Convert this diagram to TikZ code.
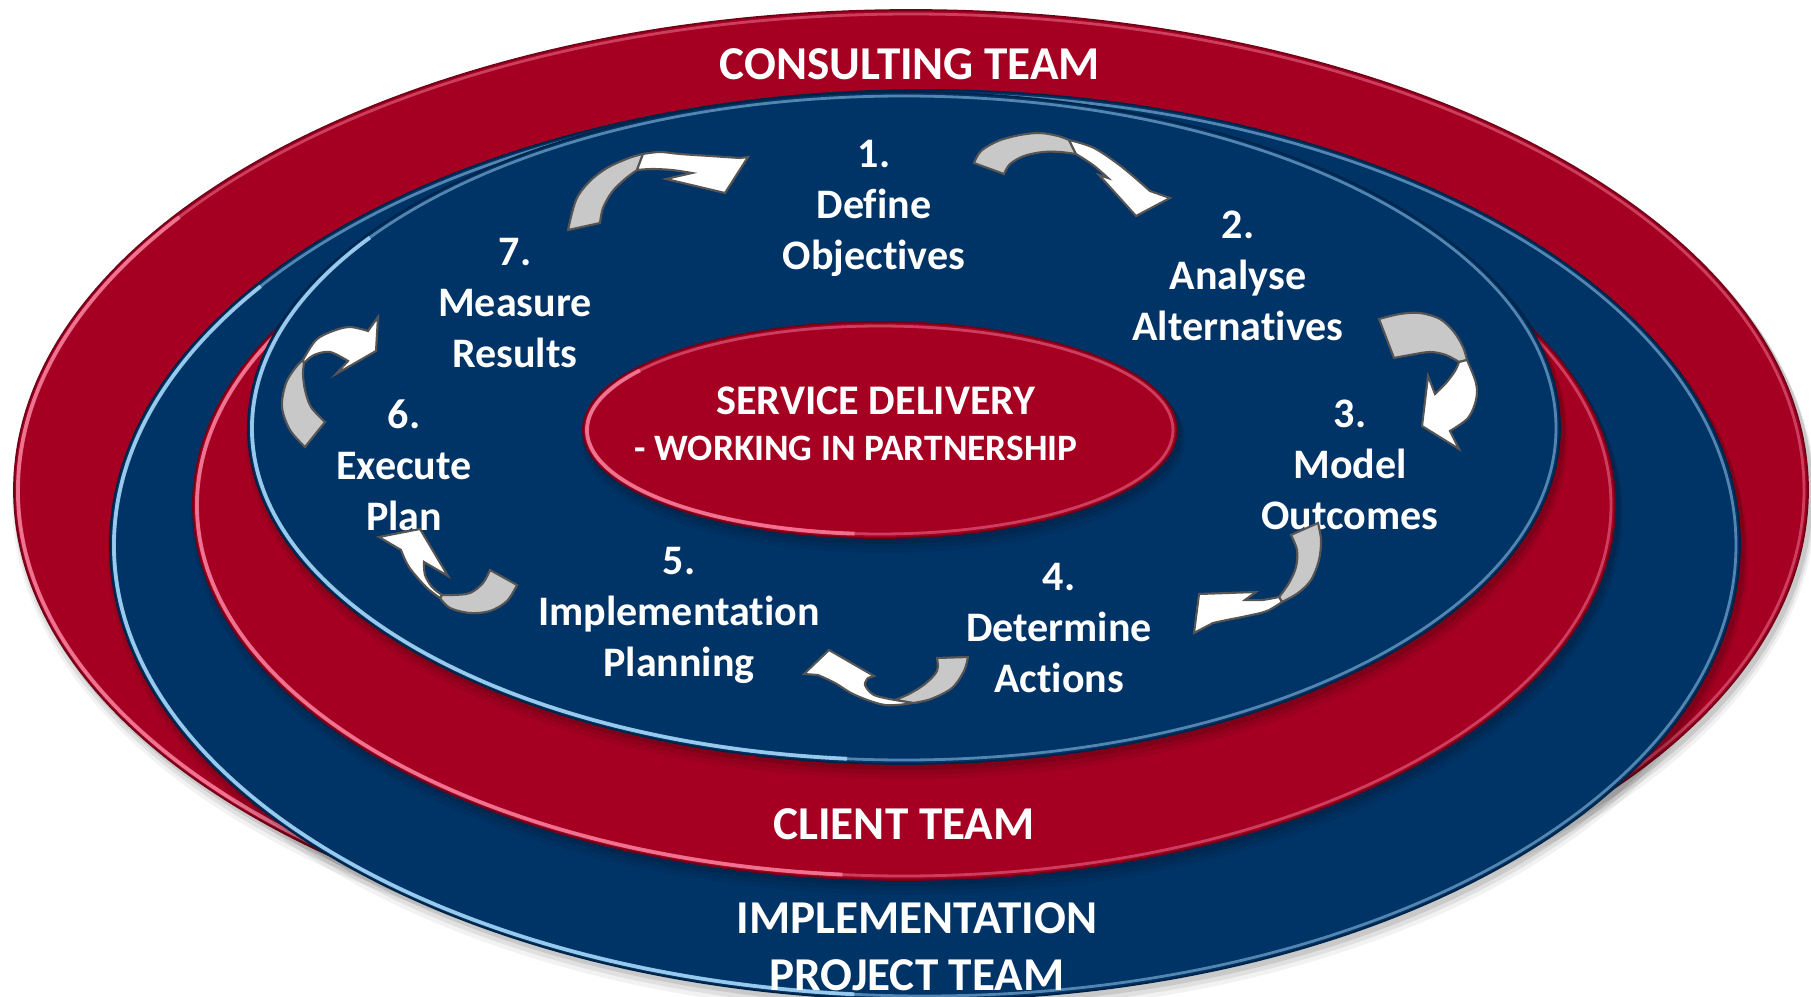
\documentclass[tikz,border=0pt]{standalone}
\usepackage{fontspec}
\setmainfont{Carlito}[Ligatures=NoCommon]
\usetikzlibrary{calc}

\definecolor{teamred}{RGB}{165,0,33}
\definecolor{teamblue}{RGB}{0,51,102}
\definecolor{redhi}{RGB}{245,125,155}
\definecolor{bluehi}{RGB}{165,215,248}
\definecolor{arrowgray}{RGB}{200,200,200}
\definecolor{arrowline}{RGB}{85,85,85}

\tikzset{
  steptext/.style={text=white, align=center, inner sep=0pt,
    font=\fontsize{11.95}{14.5}\selectfont\bfseries},
  teamtext/.style={text=white, inner sep=0pt,
    font=\fontsize{13.4}{16.5}\selectfont\bfseries},
  arrowback/.style={fill=arrowgray, draw=arrowline, line width=0.6pt, line join=miter},
  arrowfront/.style={fill=white, draw=arrowline, line width=0.6pt, line join=miter},
  edge/.style={smooth, tension=0.55},
}

% ring: centre x, centre y, x radius, y radius, fill colour, rim colour
\newcommand\ring[6]{%
  \foreach \k/\o in {10/0.05,7/0.07,4/0.10}{
    \fill[black, opacity=\o] (#1+3,#2+\k) ellipse[x radius=#3+\k/2, y radius=#4+\k/2];}
  \fill[#5] (#1,#2) ellipse[x radius=#3, y radius=#4];
  \draw[#6, line width=0.8pt, opacity=0.5] (#1,#2) ellipse[x radius=#3-4, y radius=#4-4];
  \draw[#6, line width=1.1pt, opacity=0.85]
    ({#1+(#3-4)*cos(95)},{#2+(#4-4)*sin(95)})
    arc[start angle=95, end angle=215, x radius=#3-4, y radius=#4-4];
  \draw[#5!70!black, line width=0.5pt] (#1,#2) ellipse[x radius=#3, y radius=#4];
}

\begin{document}
\begin{tikzpicture}[x=0.01cm, y=-0.01cm]
\useasboundingbox (0,0) rectangle (1811,997);
\fill[white] (0,0) rectangle (1811,997);
\clip (0,0) rectangle (1811,997);

% nested team rings, back to front
\ring{911}{490}{897}{480}{teamred}{redhi}
\ring{925}{545}{815}{455}{teamblue}{bluehi}
\ring{904}{505}{711}{375}{teamred}{redhi}
\ring{904}{428}{656}{336}{teamblue}{bluehi}
\ring{880}{430}{297}{108}{teamred}{redhi}

% team labels
\node[teamtext] (consulting) at (910,64) {CONSULTING TEAM};
\node[teamtext] (client) at (904,824) {CLIENT TEAM};
\node[teamtext, anchor=base] (impl) at (917,933) {IMPLEMENTATION};
\node[teamtext, anchor=base] (project) at (917,990) {PROJECT TEAM};

% hub
\node[text=white, inner sep=0pt, font=\fontsize{12}{14}\selectfont\bfseries]
  (hub1) at (876,401) {SERVICE DELIVERY};
\node[text=white, inner sep=0pt, font=\fontsize{10.6}{13}\selectfont\bfseries]
  (hub2) at (856,448) {- WORKING IN PARTNERSHIP};

% process steps
\node[steptext] (s1) at (874,208) {1.\\Define\\Objectives};
\node[steptext] (s2) at (1238,276) {2.\\Analyse\\Alternatives};
\node[steptext] (s3) at (1350,465) {3.\\Model\\Outcomes};
\node[steptext] (s4) at (1059,628) {4.\\Determine\\Actions};
\node[steptext] (s5) at (679,615) {5.\\Implementation\\Planning};
\node[steptext] (s6) at (404,465) {6.\\Execute\\Plan};
\node[steptext] (s7) at (515,303) {7.\\Measure\\Results};

% ---- twisted block arrows of the cycle: grey underside, then white face with head ----
% 7 -> 1
\filldraw[arrowback] plot[edge] coordinates {(568,230) (576,200) (589,182) (607,168) (629,158) (643,154)}
  -- plot[edge] coordinates {(637,170) (625,179) (612,192) (603,208) (600,223)} -- cycle;
\filldraw[arrowfront] plot[edge] coordinates {(643,154) (660,152) (680,154) (710,156) (740,158)}
  -- (748,157) -- (725,193) -- (666,179) -- (692,173)
  -- plot[edge] coordinates {(692,173) (672,170) (652,169) (637,170)} -- cycle;
% 1 -> 2
\filldraw[arrowback] plot[edge] coordinates {(974,163) (981,151) (998,141) (1020,135) (1040,133) (1058,136) (1069,140)}
  -- plot[edge] coordinates {(1076,154) (1060,152) (1043,152) (1024,156) (1010,164) (1004,174)} -- cycle;
\filldraw[arrowfront] plot[edge] coordinates {(1069,140) (1094,148) (1122,167) (1150,191)}
  -- (1170,198) -- (1136,216) -- (1099,175) -- (1108,178)
  -- plot[edge] coordinates {(1108,178) (1093,165) (1076,154)} -- cycle;
% 2 -> 3
\filldraw[arrowback] plot[edge] coordinates {(1379,319) (1400,314) (1420,313) (1440,319) (1454,332) (1463,347) (1467,360)}
  -- plot[edge] coordinates {(1459,362) (1446,355) (1430,352) (1410,355) (1394,358)} -- cycle;
\filldraw[arrowfront] plot[edge] coordinates {(1467,360) (1476,383) (1476,400) (1468,418) (1450,431)}
  -- (1459,449) -- (1422,426) -- (1428,376) -- (1435,394)
  -- plot[edge] coordinates {(1435,394) (1446,383) (1455,371) (1459,362)} -- cycle;
% 3 -> 4
\filldraw[arrowback] plot[edge] coordinates {(1291,535) (1297,550) (1296,567) (1289,583) (1279,597)}
  -- plot[edge] coordinates {(1282,602) (1298,593) (1311,580) (1319,560) (1321,540) (1318,523)} -- cycle;
\filldraw[arrowfront] plot[edge] coordinates {(1282,602) (1267,611) (1247,616) (1227,620) (1213,623)}
  -- (1194,633) -- (1199,594) -- (1256,592) -- (1245,600)
  -- plot[edge] coordinates {(1245,600) (1262,600) (1279,597)} -- cycle;
% 4 -> 5
\filldraw[arrowback] plot[edge] coordinates {(937,658) (937,671) (925,684) (909,694) (895,700)}
  -- plot[edge] coordinates {(913,703) (931,699) (952,688) (964,671) (968,657)} -- cycle;
\filldraw[arrowfront] plot[edge] coordinates {(913,703) (885,705) (855,695) (835,683) (818,675)}
  -- (804,674) -- (829,650) -- (874,676) -- (868,678)
  -- plot[edge] coordinates {(868,678) (865,685) (874,695) (895,700)} -- cycle;
% 5 -> 6
\filldraw[arrowback] plot[edge] coordinates {(490,570) (483,583) (470,593) (453,595) (442,595)}
  -- plot[edge] coordinates {(440,598) (450,608) (470,613) (490,611) (507,601) (517,585)} -- cycle;
\filldraw[arrowfront] plot[edge] coordinates {(440,598) (426,587) (409,567) (401,550)}
  -- (379,537) -- (420,529) -- (448,576) -- (424,562)
  -- plot[edge] coordinates {(424,562) (425,575) (432,587) (442,595)} -- cycle;
% 6 -> 7
\filldraw[arrowback] plot[edge] coordinates {(305,447) (290,430) (282,407) (286,383) (296,367) (303,360)}
  -- plot[edge] coordinates {(304,363) (303,374) (305,390) (311,407) (325,422)} -- cycle;
\filldraw[arrowfront] plot[edge] coordinates {(303,360) (316,340) (333,331) (350,327) (368,331)}
  -- (378,317) -- (376,351) -- (336,374) -- (348,361)
  -- plot[edge] coordinates {(348,361) (330,352) (314,355) (304,363)} -- cycle;
\end{tikzpicture}
\end{document}
